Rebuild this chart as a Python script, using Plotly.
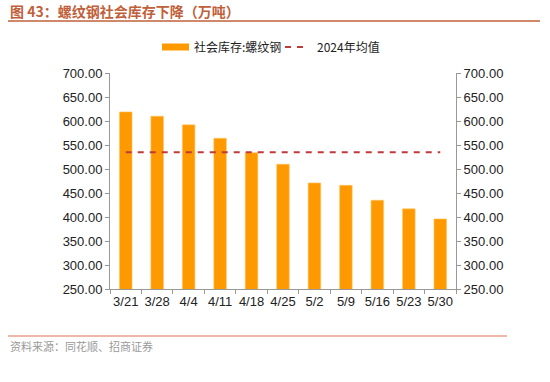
import plotly.graph_objects as go

categories = ["3/21", "3/28", "4/4", "4/11", "4/18", "4/25", "5/2", "5/9", "5/16", "5/23", "5/30"]
inventory = [619, 610, 592, 564, 534, 510, 471, 466, 435, 417, 396]
avg_2024 = [535] * len(categories)
y_ticks = [250, 300, 350, 400, 450, 500, 550, 600, 650, 700]

W, H = 550, 382
L, R, T, B = 110, 94, 73, 93
pw, ph = W - L - R, H - T - B

def px(x):
    return (x - L) / pw

def py(y):
    return (H - B - y) / ph

FONT = "Liberation Sans, Arial, Noto Sans CJK SC, sans-serif"
CJK = "Noto Sans CJK SC, sans-serif"
ORANGE = "#FF9900"
RED = "#C0393B"

fig = go.Figure()
fig.add_trace(go.Bar(x=categories, y=inventory, name="社会库存:螺纹钢",
                     marker=dict(color=ORANGE, line=dict(color="#FFC866", width=0.6)),
                     width=0.4, showlegend=False))
fig.add_trace(go.Scatter(x=categories, y=avg_2024, name="2024年均值", mode="lines",
                         line=dict(color=RED, width=2, dash="6px,6px"), showlegend=False))

tick_text = [f"{v:.2f}" for v in y_ticks]
axis_common = dict(range=[250, 700], tickvals=y_ticks, ticktext=tick_text,
                   showgrid=False, zeroline=False, showline=True, linecolor="#999999",
                   linewidth=1, ticks="outside", ticklen=4, tickcolor="#999999",
                   automargin=False,
                   tickfont=dict(family=FONT, size=13, color="#222222"))

fig.update_layout(
    width=W, height=H,
    margin=dict(l=L, r=R, t=T, b=B),
    paper_bgcolor="white", plot_bgcolor="white",
    xaxis=dict(type="category", tickson="boundaries", ticks="outside", ticklen=4,
               tickcolor="#999999", showline=True, linecolor="#999999", linewidth=1,
               showgrid=False, tickangle=0, automargin=False,
               tickfont=dict(family=FONT, size=13, color="#222222")),
    yaxis=dict(**axis_common),
    yaxis2=dict(**axis_common, overlaying="y", side="right"),
    showlegend=False,
)
# invisible trace to carry the right axis
fig.add_trace(go.Scatter(x=categories, y=inventory, yaxis="y2", mode="none",
                         showlegend=False, hoverinfo="skip"))

# title
fig.add_annotation(xref="paper", yref="paper", x=px(8), y=py(11.5), xanchor="left", yanchor="middle",
                   text="<b>图 43：螺纹钢社会库存下降（万吨）</b>", showarrow=False,
                   font=dict(family=CJK, size=14, color="#C0603A"))
fig.add_shape(type="line", xref="paper", yref="paper", x0=px(8), x1=px(540), y0=py(21), y1=py(21),
              line=dict(color="#C0603A", width=1.5))

# legend
fig.add_shape(type="rect", xref="paper", yref="paper", x0=px(162), x1=px(189), y0=py(43.5), y1=py(50.5),
              fillcolor=ORANGE, line=dict(width=0))
fig.add_annotation(xref="paper", yref="paper", x=px(192), y=py(47), xanchor="left", yanchor="middle",
                   text="社会库存:螺纹钢", showarrow=False, font=dict(family=CJK, size=12, color="#222222"))
fig.add_shape(type="line", xref="paper", yref="paper", x0=px(285), x1=px(308), y0=py(47), y1=py(47),
              line=dict(color=RED, width=2, dash="6px,6px"))
fig.add_annotation(xref="paper", yref="paper", x=px(315), y=py(47), xanchor="left", yanchor="middle",
                   text="2024年均值", showarrow=False, font=dict(family=CJK, size=12, color="#222222"))

# source
fig.add_shape(type="line", xref="paper", yref="paper", x0=px(8), x1=px(507), y0=py(336), y1=py(336),
              line=dict(color="#E07050", width=1.2))
fig.add_annotation(xref="paper", yref="paper", x=px(8), y=py(346), xanchor="left", yanchor="middle",
                   text="资料来源：同花顺、招商证券", showarrow=False,
                   font=dict(family=CJK, size=11, color="#9A9A9A"))

fig.write_html("out.html", config={"displayModeBar": False},
               post_script="document.body.style.margin='0';")
